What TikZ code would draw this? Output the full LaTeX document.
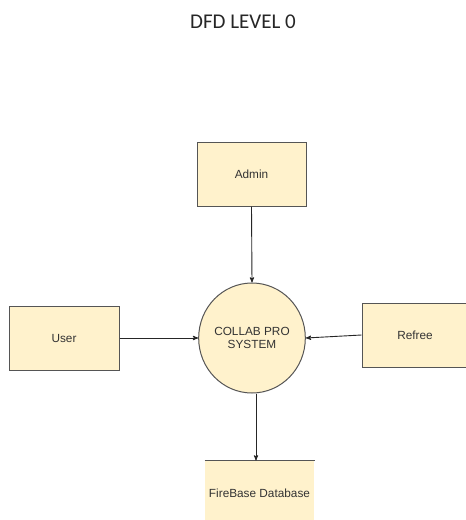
\documentclass[tikz,border=0pt]{standalone}
\usepackage{fontspec}
\setmainfont{Liberation Sans}
\newfontfamily\titlefont{Carlito}
\usetikzlibrary{arrows}
\usetikzlibrary{shapes.geometric}
\definecolor{dfdfill}{HTML}{FFF2CC}
\definecolor{dfdline}{HTML}{555555}
\definecolor{dfdtext}{HTML}{333333}
\tikzset{entity/.style = {draw=dfdline, fill=dfdfill, line width=1pt,
                          minimum width=109pt, minimum height=64pt, inner sep=0pt,
                          text=dfdtext, font=\fontsize{11.8}{13.5}\selectfont},
         process/.style = {ellipse, draw=dfdline, fill=dfdfill, line width=1pt,
                           minimum width=96pt, minimum height=110pt, inner sep=0pt,
                           align=center, text=dfdtext, font=\fontsize{11.8}{13.5}\selectfont},
         flow/.style = {-stealth', line width=0.9pt, black!85}}

\begin{document}
\begin{tikzpicture}[x=1pt, y=-1pt]
    \clip (0, 0) rectangle (466, 520);
    \fill [white] (0, 0) rectangle (466, 520);
    \node [text=black!85, font=\titlefont\fontsize{21}{24}\selectfont] (title) at (243, 22) {DFD LEVEL 0};
    \node [entity] (admin) at (251.5, 174) {Admin};
    \node [entity, minimum width=110pt] (user) at (64, 338) {User};
    \node [entity, minimum width=106pt] (refree) at (415, 335) {Refree};
    \node [process] (system) at (252, 338) {COLLAB PRO\\SYSTEM};
    % data store: fill with a top line only
    \node [entity, draw=none] (store) at (259.5, 493) {FireBase Database};
    \draw [dfdline, line width=1pt] (store.north west) -- (store.north east);
    \coordinate (drop) at (256, 0);
    \draw [flow] (admin.south) -- (system.north);
    \draw [flow] (user.east) -- (system.west);
    \draw [flow] (refree.west) -- (system.east);
    \draw [flow] (system.south -| drop) -- (store.north -| drop);
  \end{tikzpicture}
\end{document}
